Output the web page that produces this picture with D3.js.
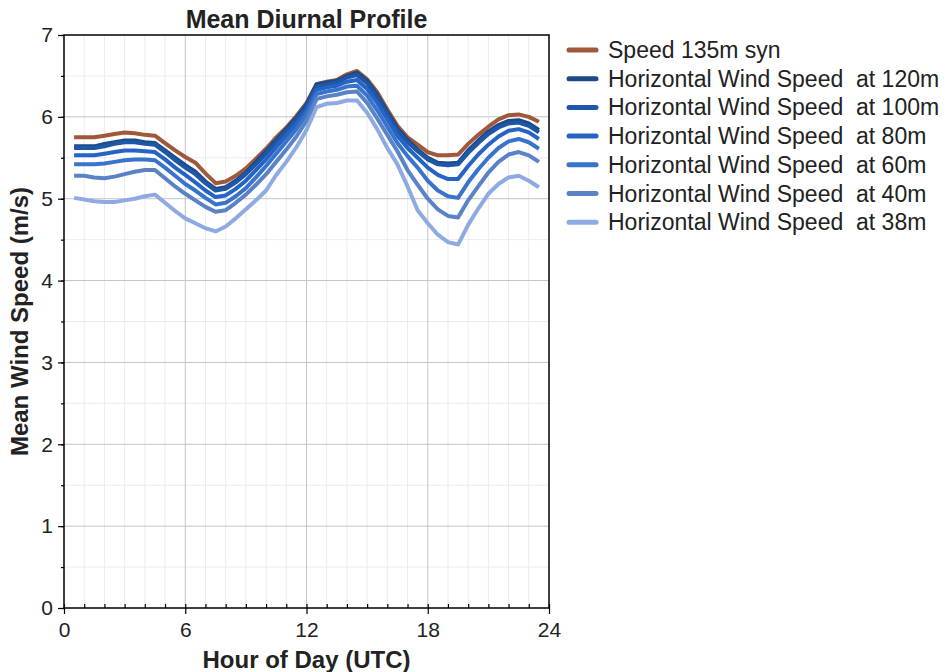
<!DOCTYPE html>
<html><head><meta charset="utf-8">
<script src="https://cdn.jsdelivr.net/npm/d3@7"></script>
<style>body{margin:0;background:#fff;} svg{display:block;font-family:"Liberation Sans",Arial,sans-serif;}</style>
</head><body><svg id="c" width="948" height="672"></svg>
<script>
const hours = [0.5,1,1.5,2,2.5,3,3.5,4,4.5,5,5.5,6,6.5,7,7.5,8,8.5,9,9.5,10,10.5,11,11.5,12,12.5,13,13.5,14,14.5,15,15.5,16,16.5,17,17.5,18,18.5,19,19.5,20,20.5,21,21.5,22,22.5,23,23.5];
const speed135 = [5.75,5.75,5.75,5.77,5.79,5.81,5.80,5.78,5.77,5.68,5.59,5.51,5.44,5.31,5.19,5.21,5.28,5.37,5.49,5.61,5.75,5.87,6.01,6.17,6.40,6.43,6.45,6.52,6.56,6.46,6.30,6.09,5.89,5.75,5.66,5.57,5.53,5.53,5.54,5.67,5.78,5.88,5.97,6.02,6.03,6.00,5.94];
const ws120 = [5.64,5.64,5.64,5.67,5.69,5.71,5.71,5.69,5.68,5.59,5.50,5.41,5.33,5.21,5.12,5.14,5.22,5.32,5.45,5.58,5.72,5.85,5.99,6.15,6.40,6.42,6.44,6.50,6.54,6.44,6.27,6.06,5.86,5.72,5.60,5.50,5.44,5.43,5.44,5.59,5.71,5.82,5.90,5.95,5.96,5.92,5.84];
const ws100 = [5.62,5.62,5.62,5.64,5.67,5.69,5.69,5.67,5.66,5.57,5.47,5.38,5.30,5.19,5.10,5.12,5.20,5.30,5.42,5.55,5.69,5.82,5.96,6.12,6.37,6.40,6.42,6.48,6.51,6.41,6.24,6.03,5.83,5.69,5.58,5.48,5.42,5.41,5.42,5.56,5.68,5.79,5.87,5.92,5.93,5.89,5.81];
const ws80 = [5.53,5.53,5.53,5.55,5.57,5.59,5.59,5.58,5.57,5.48,5.38,5.29,5.20,5.10,5.02,5.04,5.12,5.22,5.35,5.48,5.63,5.77,5.91,6.08,6.33,6.36,6.38,6.43,6.45,6.34,6.17,5.97,5.77,5.62,5.50,5.38,5.29,5.24,5.24,5.40,5.54,5.66,5.76,5.83,5.85,5.81,5.73];
const ws60 = [5.42,5.42,5.42,5.43,5.45,5.47,5.48,5.48,5.47,5.38,5.28,5.18,5.10,5.01,4.93,4.95,5.03,5.13,5.26,5.40,5.55,5.70,5.85,6.03,6.28,6.31,6.33,6.37,6.38,6.26,6.08,5.88,5.68,5.52,5.38,5.22,5.10,5.03,5.01,5.20,5.36,5.50,5.62,5.70,5.73,5.69,5.61];
const ws40 = [5.28,5.28,5.26,5.25,5.27,5.30,5.33,5.35,5.35,5.25,5.15,5.06,4.98,4.90,4.84,4.86,4.95,5.05,5.17,5.30,5.45,5.60,5.76,5.95,6.22,6.25,6.27,6.30,6.31,6.17,5.98,5.78,5.58,5.35,5.17,5.00,4.87,4.79,4.77,4.98,5.15,5.32,5.45,5.54,5.57,5.53,5.45];
const ws38 = [5.01,4.99,4.97,4.96,4.96,4.98,5.00,5.03,5.05,4.95,4.85,4.76,4.70,4.64,4.60,4.66,4.76,4.87,4.98,5.10,5.29,5.45,5.63,5.84,6.12,6.16,6.17,6.20,6.20,6.05,5.85,5.62,5.42,5.15,4.86,4.70,4.56,4.47,4.44,4.68,4.88,5.06,5.18,5.26,5.28,5.22,5.14];

const seriesNames = ["Speed 135m syn","Horizontal Wind Speed  at 120m","Horizontal Wind Speed  at 100m","Horizontal Wind Speed  at 80m","Horizontal Wind Speed  at 60m","Horizontal Wind Speed  at 40m","Horizontal Wind Speed  at 38m"];
const seriesValues = [speed135, ws120, ws100, ws80, ws60, ws40, ws38];
const seriesColors = ["#a0583a","#1d4a87","#1f57a8","#2563c4","#3873cc","#5a82c6","#8eaae2"];
const xTicks = [0,6,12,18,24];
const yTicks = [0,1,2,3,4,5,6,7];
const xMinor = [0,1,2,3,4,5,6,7,8,9,10,11,12,13,14,15,16,17,18,19,20,21,22,23,24];
const yMinor = [0,0.5,1,1.5,2,2.5,3,3.5,4,4.5,5,5.5,6,6.5,7];
const title = "Mean Diurnal Profile";
const xTitle = "Hour of Day (UTC)";
const yTitle = "Mean Wind Speed (m/s)";

const L=64, R=549, T=35, B=608;
const x = d3.scaleLinear().domain([0,24]).range([L,R]);
const y = d3.scaleLinear().domain([0,7]).range([B,T]);
const svg = d3.select("#c");

// minor grid
svg.append("g").selectAll("line").data(xMinor.filter(d=>!xTicks.includes(d))).join("line")
  .attr("x1",d=>x(d)).attr("x2",d=>x(d)).attr("y1",T).attr("y2",B).attr("stroke","#ececec").attr("stroke-width",1);
svg.append("g").selectAll("line").data(yMinor.filter(d=>!yTicks.includes(d))).join("line")
  .attr("y1",d=>y(d)).attr("y2",d=>y(d)).attr("x1",L).attr("x2",R).attr("stroke","#ececec").attr("stroke-width",1);
// major grid
svg.append("g").selectAll("line").data(xTicks.slice(1,-1)).join("line")
  .attr("x1",d=>x(d)).attr("x2",d=>x(d)).attr("y1",T).attr("y2",B).attr("stroke","#c4c4c4").attr("stroke-width",1);
svg.append("g").selectAll("line").data(yTicks.slice(1,-1)).join("line")
  .attr("y1",d=>y(d)).attr("y2",d=>y(d)).attr("x1",L).attr("x2",R).attr("stroke","#c4c4c4").attr("stroke-width",1);

// lines
const line = d3.line().x((d,i)=>x(hours[i])).y(d=>y(d));
seriesValues.forEach((vals,k)=>{
  svg.append("path").datum(vals).attr("d",line).attr("fill","none")
    .attr("stroke",seriesColors[k]).attr("stroke-width",4).attr("stroke-linejoin","round");
});

// frame
svg.append("rect").attr("x",L).attr("y",T).attr("width",R-L).attr("height",B-T)
  .attr("fill","none").attr("stroke","#000").attr("stroke-width",1.5);

// axes
const ax = svg.append("g").attr("transform",`translate(0,${B})`)
  .call(d3.axisBottom(x).tickValues(xTicks).tickSize(6).tickPadding(8).tickFormat(d3.format("d")));
const axm = svg.append("g").attr("transform",`translate(0,${B})`)
  .call(d3.axisTop(x).tickValues(xMinor).tickSize(4).tickFormat(""));
const ay = svg.append("g").attr("transform",`translate(${L},0)`)
  .call(d3.axisLeft(y).tickValues(yTicks).tickSize(6).tickPadding(5).tickFormat(d3.format("d")));
const aym = svg.append("g").attr("transform",`translate(${L},0)`)
  .call(d3.axisLeft(y).tickValues(yMinor).tickSize(3).tickFormat(""));
[ax,axm,ay,aym].forEach(g=>{g.select(".domain").remove(); g.selectAll("line").attr("stroke","#000").attr("stroke-width",1.2);});
[ax,ay].forEach(g=>g.selectAll("text").attr("font-size",21).attr("fill","#222").attr("font-family","Liberation Sans, Arial, sans-serif"));

// titles
svg.append("text").attr("x",(L+R)/2).attr("y",28).attr("text-anchor","middle")
  .attr("font-size",25).attr("font-weight","bold").attr("fill","#222").text(title);
svg.append("text").attr("x",(L+R)/2).attr("y",668).attr("text-anchor","middle")
  .attr("font-size",24).attr("font-weight","bold").attr("fill","#222").text(xTitle);
svg.append("text").attr("transform",`translate(28,${(T+B)/2}) rotate(-90)`).attr("text-anchor","middle")
  .attr("font-size",24).attr("font-weight","bold").attr("fill","#222").text(yTitle);

// legend
const lg = svg.append("g");
seriesNames.forEach((n,k)=>{
  const cy = 50 + k*28.7;
  lg.append("line").attr("x1",569).attr("x2",596).attr("y1",cy).attr("y2",cy)
    .attr("stroke",seriesColors[k]).attr("stroke-width",5).attr("stroke-linecap","round");
  lg.append("text").attr("x",608).attr("y",cy+8).attr("font-size",23).attr("fill","#222")
    .attr("xml:space","preserve").style("white-space","pre").text(n);
});
</script></body></html>
